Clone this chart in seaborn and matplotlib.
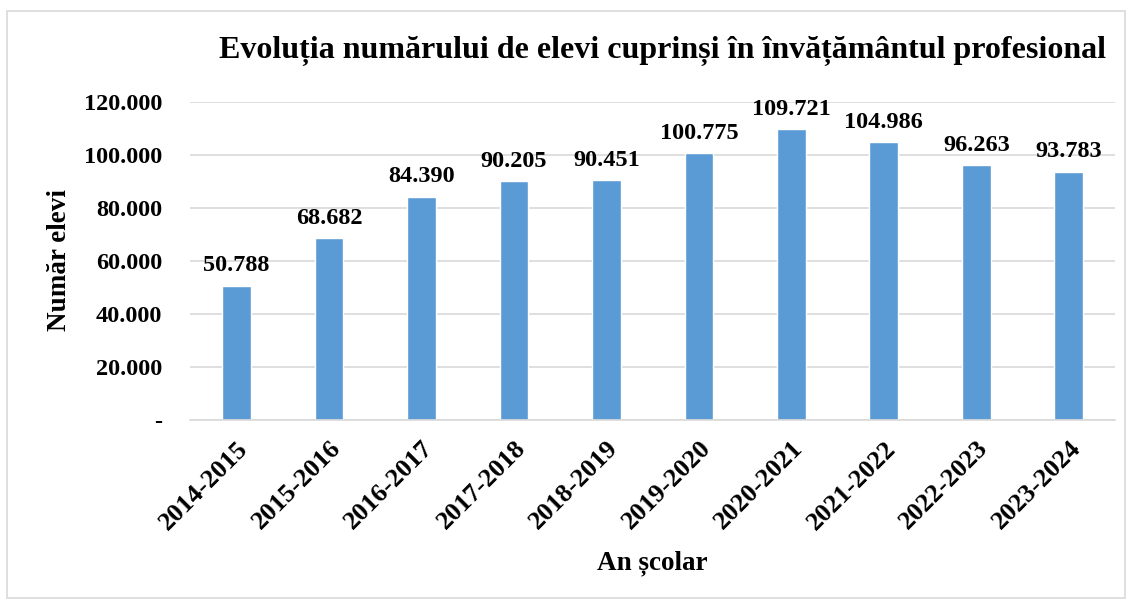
import matplotlib
matplotlib.use("Agg")
import matplotlib.pyplot as plt
import matplotlib.ticker as mticker
from matplotlib.patches import Rectangle
import seaborn as sns
import pandas as pd

# date
ani = ["2014-2015", "2015-2016", "2016-2017", "2017-2018", "2018-2019",
       "2019-2020", "2020-2021", "2021-2022", "2022-2023", "2023-2024"]
elevi = [50788, 68682, 84390, 90205, 90451, 100775, 109721, 104986, 96263, 93783]

data = pd.DataFrame({"An": ani, "Elevi": elevi})

sns.set_theme(style="white")
plt.rcParams["font.family"] = ["Liberation Serif", "DejaVu Serif"]
plt.rcParams["font.weight"] = "bold"
plt.rcParams["text.color"] = "black"
plt.rcParams["xtick.color"] = "black"
plt.rcParams["ytick.color"] = "black"


def fmt(v):
    if v == 0:
        return "-"
    return f"{int(v):,}".replace(",", ".")


fig = plt.figure(figsize=(11.32, 6.01), dpi=100)
ax = fig.add_axes([0.168, 0.301, 0.817, 0.529])

sns.barplot(data=data, x="An", y="Elevi", color="#5B9BD5", saturation=1,
            width=0.31, ax=ax)

for i, v in enumerate(elevi):
    ax.text(i, v + 3500, fmt(v), ha="center", va="bottom",
            fontsize=17.5, fontweight="bold", color="black")

ax.set_ylim(0, 120000)
ax.set_xlim(-0.5, 9.5)
ax.yaxis.set_major_locator(mticker.MultipleLocator(20000))
ax.yaxis.set_major_formatter(mticker.FuncFormatter(lambda v, p: fmt(v)))
ax.grid(axis="y", color="#d9d9d9", linewidth=1.2)
ax.set_axisbelow(True)
for s in ["top", "right", "left"]:
    ax.spines[s].set_visible(False)
ax.spines["bottom"].set_color("#d9d9d9")
ax.spines["bottom"].set_linewidth(1.2)
ax.tick_params(axis="y", length=0, pad=20, labelsize=17.5)
ax.tick_params(axis="x", length=0, pad=12, labelsize=19)
plt.setp(ax.get_xticklabels(), rotation=45, ha="right", rotation_mode="anchor",
         fontweight="bold")
plt.setp(ax.get_yticklabels(), fontweight="bold")

ax.set_xlabel("")
ax.set_ylabel("")
fig.text(0.576, 0.063, "An școlar", ha="center", va="center",
         fontsize=19.5, fontweight="bold")
fig.text(0.053, 0.567, "Număr elevi", ha="center", va="center", rotation=90,
         fontsize=19.5, fontweight="bold")
fig.text(0.585, 0.915, "Evoluția numărului de elevi cuprinși în învățământul profesional",
         ha="center", va="center", fontsize=23, fontweight="bold")

fig.patches.append(Rectangle((0.006, 0.005), 0.988, 0.977, transform=fig.transFigure,
                             fill=False, edgecolor="#d9d9d9", linewidth=1.2))

fig.savefig("out.png", dpi=100)
